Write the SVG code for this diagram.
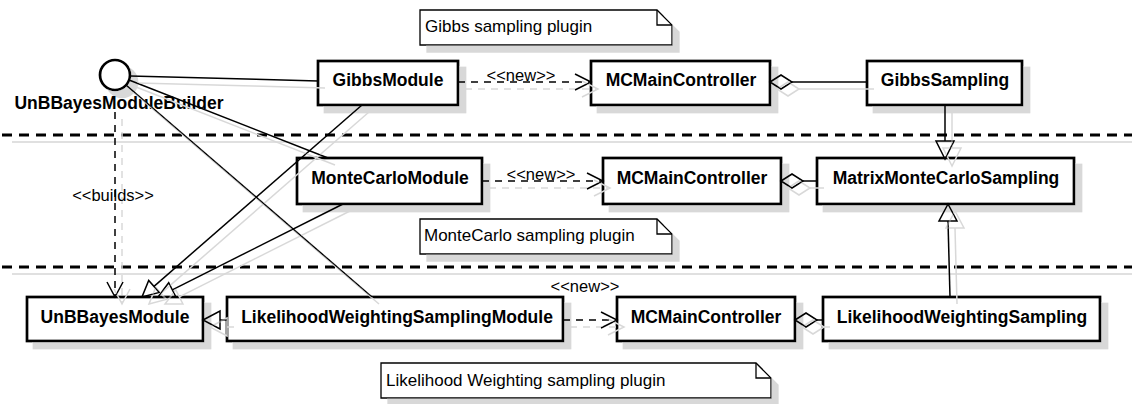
<svg xmlns="http://www.w3.org/2000/svg" width="1132" height="404" viewBox="0 0 1132 404">
<defs>
<filter id="sh" filterUnits="userSpaceOnUse" x="0" y="0" width="1132" height="404">
<feFlood flood-color="#d8d8d8"/>
<feComposite in2="SourceAlpha" operator="in"/>
<feOffset dx="7" dy="7"/>
<feMerge><feMergeNode/><feMergeNode in="SourceGraphic"/></feMerge>
</filter>
<style>
.box{fill:#fff;stroke:#000;stroke-width:2.7}
.note{fill:#fff;stroke:#000;stroke-width:1.3}
.fold{fill:none;stroke:#000;stroke-width:1.3}
.t{font-family:"Liberation Sans",Arial,sans-serif;font-size:17.5px;font-weight:bold;text-anchor:middle;fill:#000}
.nt{font-family:"Liberation Sans",Arial,sans-serif;font-size:17px;fill:#000}
.lb{font-family:"Liberation Sans",Arial,sans-serif;font-size:16.5px;fill:#000;text-anchor:middle}
.ln{fill:none;stroke:#000;stroke-width:1.5}
.dash{stroke-dasharray:7 6}
.hd{fill:none;stroke:#000;stroke-width:1.5}
.sep{stroke:#000;stroke-width:3;stroke-dasharray:10 7}
.seps{stroke:#e0e0e0;stroke-width:2}
</style>
</defs>
<rect width="1132" height="404" fill="#fff"/>

<g id="separators">
<line class="seps" x1="12" y1="142" x2="1132" y2="142"/>
<line class="sep" x1="2" y1="135" x2="1132" y2="135"/>
<line class="seps" x1="12" y1="274" x2="1132" y2="274"/>
<line class="sep" x1="2" y1="267" x2="1132" y2="267"/>
</g>

<g id="note-gibbs">
<path class="note" filter="url(#sh)" d="M420,10 H657 L672,25 V45 H420 Z"/>
<path class="fold" d="M657,10 V25 H672"/>
<text class="nt" x="425" y="32">Gibbs sampling plugin</text>
</g>
<g id="note-montecarlo">
<path class="note" filter="url(#sh)" d="M420,219 H657 L672,234 V254 H420 Z"/>
<path class="fold" d="M657,219 V234 H672"/>
<text class="nt" x="424" y="241">MonteCarlo sampling plugin</text>
</g>
<g id="note-likelihood">
<path class="note" filter="url(#sh)" d="M381,363 H756 L771,378 V398 H381 Z"/>
<path class="fold" d="M756,363 V378 H771"/>
<text class="nt" x="386" y="386">Likelihood Weighting sampling plugin</text>
</g>

<g id="UnBBayesModuleBuilder">
<circle class="box" filter="url(#sh)" cx="115" cy="75" r="15"/>
<text class="t" x="119" y="109">UnBBayesModuleBuilder</text>
</g>
<g id="GibbsModule">
<rect class="box" filter="url(#sh)" x="318" y="61" width="140" height="44"/>
<text class="t" x="388" y="86">GibbsModule</text>
</g>
<g id="MCMainController1">
<rect class="box" filter="url(#sh)" x="591" y="61" width="179" height="44"/>
<text class="t" x="681" y="86">MCMainController</text>
</g>
<g id="GibbsSampling">
<rect class="box" filter="url(#sh)" x="867" y="61" width="155" height="44"/>
<text class="t" x="945" y="86">GibbsSampling</text>
</g>
<g id="MonteCarloModule">
<rect class="box" filter="url(#sh)" x="297" y="158" width="185" height="46"/>
<text class="t" x="390" y="184">MonteCarloModule</text>
</g>
<g id="MCMainController2">
<rect class="box" filter="url(#sh)" x="603" y="158" width="178" height="46"/>
<text class="t" x="692" y="184">MCMainController</text>
</g>
<g id="MatrixMonteCarloSampling">
<rect class="box" filter="url(#sh)" x="817" y="158" width="257" height="46"/>
<text class="t" x="946" y="184">MatrixMonteCarloSampling</text>
</g>
<g id="UnBBayesModule">
<rect class="box" filter="url(#sh)" x="27" y="297" width="176" height="44"/>
<text class="t" x="115" y="323">UnBBayesModule</text>
</g>
<g id="LikelihoodWeightingSamplingModule">
<rect class="box" filter="url(#sh)" x="227" y="297" width="336" height="44"/>
<text class="t" x="397" y="323">LikelihoodWeightingSamplingModule</text>
</g>
<g id="MCMainController3">
<rect class="box" filter="url(#sh)" x="617" y="297" width="178" height="44"/>
<text class="t" x="706" y="323">MCMainController</text>
</g>
<g id="LikelihoodWeightingSampling">
<rect class="box" filter="url(#sh)" x="823" y="297" width="277" height="44"/>
<text class="t" x="962" y="323">LikelihoodWeightingSampling</text>
</g>

<g id="connectors" filter="url(#sh)">
<line class="ln" x1="130" y1="76" x2="318" y2="81"/>
<line class="ln" x1="129" y1="80" x2="328" y2="158"/>
<line class="ln" x1="126" y1="85" x2="372" y2="297"/>
<line class="ln dash" x1="115" y1="112" x2="115" y2="296"/>
<polyline class="ln" points="107,282 115,297 123,282"/>
<line class="ln" x1="362" y1="105" x2="154" y2="286.4"/>
<polygon class="hd" points="142,297 159.3,292.4 148.7,280.4"/>
<line class="ln" x1="343" y1="204" x2="172.3" y2="289.8"/>
<polygon class="hd" points="158,297 175.9,296.9 168.7,282.7"/>
<line class="ln" x1="227" y1="320" x2="220" y2="320"/>
<polygon class="hd" points="203,320 220,311 220,329"/>
<line class="ln dash" x1="458" y1="82" x2="589" y2="82"/>
<polyline class="ln" points="575,74 591,82 575,90"/>
<line class="ln dash" x1="482" y1="181" x2="601" y2="181"/>
<polyline class="ln" points="587,173 603,181 587,189"/>
<line class="ln dash" x1="563" y1="320" x2="615" y2="320"/>
<polyline class="ln" points="601,312 617,320 601,328"/>
<polygon class="hd" points="770,82 781,75 792,82 781,89"/>
<line class="ln" x1="792" y1="82" x2="867" y2="82"/>
<polygon class="hd" points="781,181 792,174 803,181 792,188"/>
<line class="ln" x1="803" y1="181" x2="817" y2="181"/>
<polygon class="hd" points="795,320 806,313 817,320 806,327"/>
<line class="ln" x1="817" y1="320" x2="823" y2="320"/>
<line class="ln" x1="945" y1="106" x2="945" y2="141"/>
<polygon class="hd" points="945,159 936,141 954,141"/>
<line class="ln" x1="950" y1="297" x2="948" y2="221"/>
<polygon class="hd" points="948,204 939,221 957,221"/>
</g>

<g id="labels">
<text class="lb" x="521" y="81">&lt;&lt;new&gt;&gt;</text>
<text class="lb" x="541" y="180">&lt;&lt;new&gt;&gt;</text>
<text class="lb" x="585" y="292">&lt;&lt;new&gt;&gt;</text>
<text class="lb" x="113" y="201">&lt;&lt;builds&gt;&gt;</text>
</g>
</svg>
